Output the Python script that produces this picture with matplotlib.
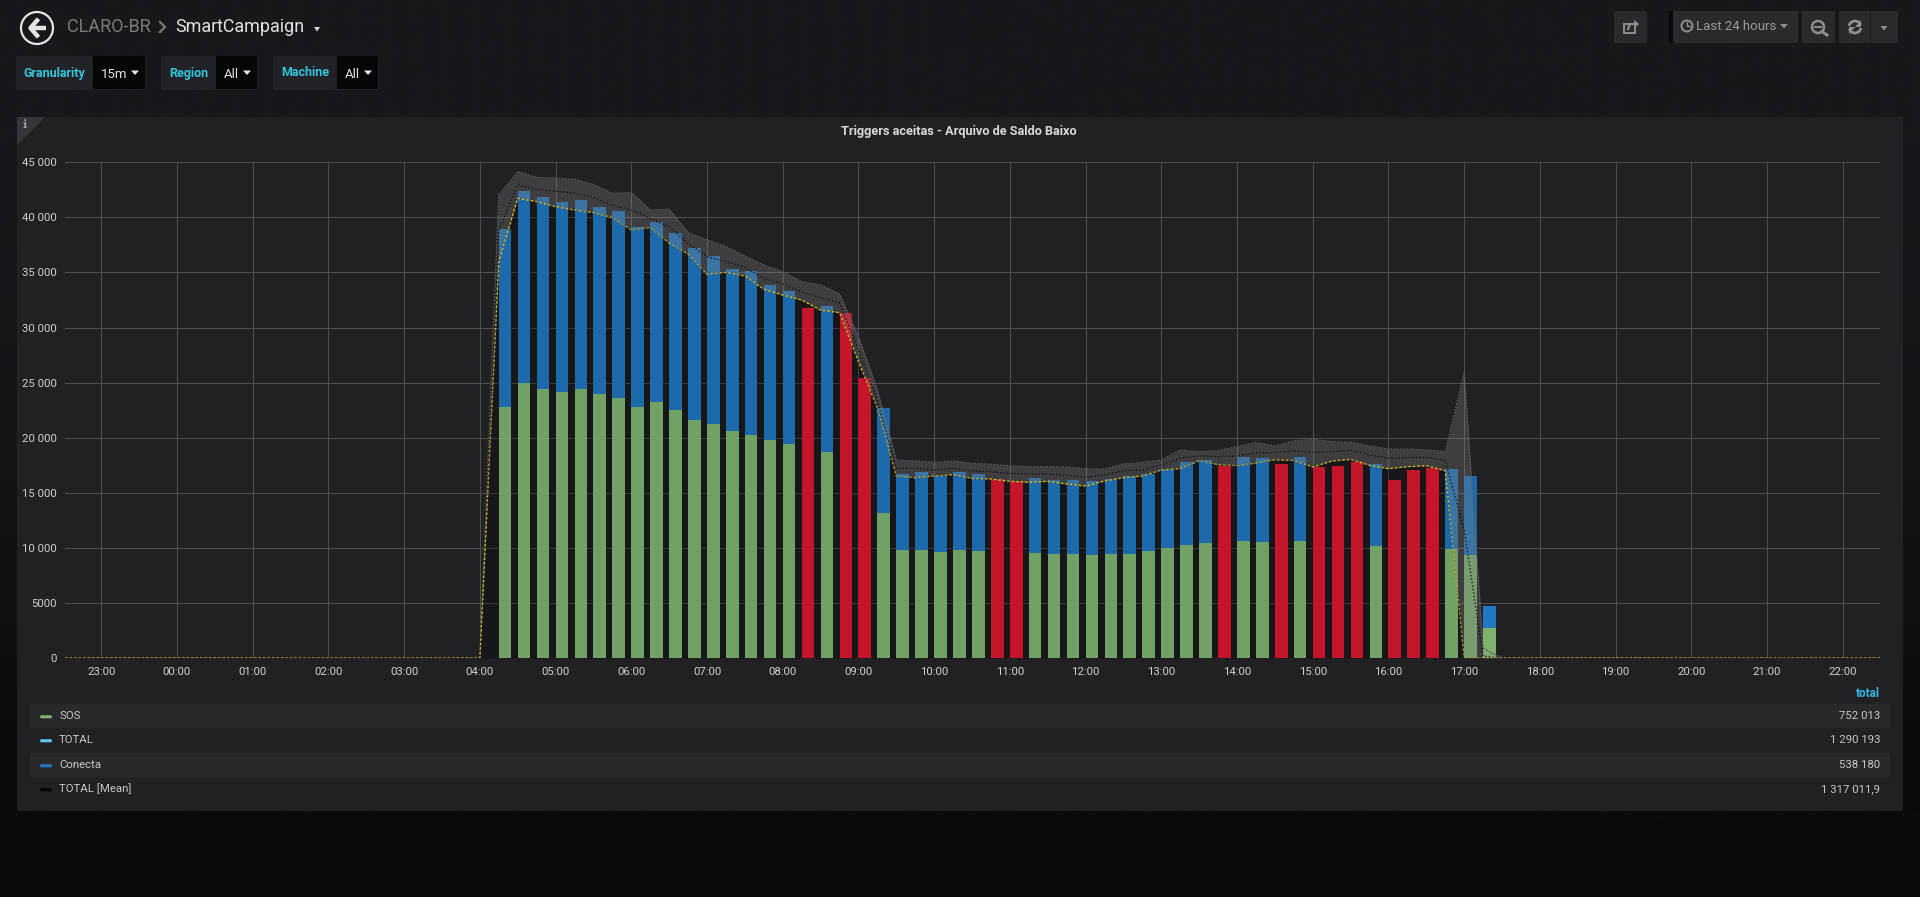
# Grafana "Triggers aceitas" panel, redrawn with matplotlib
import numpy as np
import pandas as pd
import matplotlib
matplotlib.use('Agg')
import matplotlib.pyplot as plt
import matplotlib.dates as mdates
from matplotlib.patches import Rectangle, Polygon, Circle, Arc, FancyBboxPatch

plt.rcParams['font.family'] = ['Roboto', 'DejaVu Sans']

# stacked bars, one every 15 min from 04:15 (0 = no green visible, bar drawn red)
sos = [22760, 24965, 24420, 24147, 24420, 23966, 23603, 22820, 23270, 22480, 21606,
       21240, 20607, 20244, 19790, 19455, 0, 18730, 0, 0, 13163, 9833, 9805, 9653,
       9775, 9745, 0, 0, 9530, 9470, 9440, 9350, 9440, 9470, 9713, 9986, 10258, 10440,
       0, 10620, 10500, 0, 10590, 0, 0, 0, 10200, 0, 0, 0, 9925, 9380, 2696]
bar_total = [38945, 42394, 41880, 41396, 41577, 40942, 40578, 39098, 39580, 38582, 37190,
             36465, 35313, 35131, 33860, 33290, 31800, 31955, 31320, 25418, 22665, 16700,
             16855, 16550, 16885, 16670, 16220, 16040, 16370, 16190, 16160, 16100, 16250,
             16490, 16730, 17160, 17790, 17975, 17460, 18280, 18190, 17640, 18250, 17370,
             17430, 17760, 17640, 16130, 17070, 17280, 17160, 16490, 4690]
red_bars = [16, 18, 19, 26, 27, 38, 41, 43, 44, 45, 47, 48, 49]

# lines, every 15 min from 04:00 to 17:30
total_line = [0, 35980, 41730, 41430, 40970, 40670, 40430, 39970, 38850, 39090, 37650, 36680,
              34830, 35010, 34680, 33470, 32950, 32500, 31590, 31350, 26900, 22700, 16520, 16370,
              16520, 16640, 16310, 16250, 16040, 15950, 16040, 15800, 15610, 16070, 16370, 16520,
              17070, 17190, 17910, 17550, 17460, 17700, 18000, 17940, 17340, 17880, 18040, 17490,
              17190, 17370, 17460, 17000, 0, 0, 0]
mean_line = [0, 38850, 42940, 42540, 42390, 42180, 41820, 41120, 40670, 39910, 39150, 37650,
             36430, 35980, 35470, 34470, 33950, 33250, 32710, 32250, 27960, 23330, 17220, 17220,
             17070, 17220, 17000, 16910, 16770, 16700, 16700, 16610, 16400, 16610, 17000, 17070,
             17520, 18130, 18340, 18280, 18340, 18640, 18640, 18820, 18670, 18730, 18850, 18430,
             18130, 18190, 18220, 17910, 11620, 180, 0]
upper_band = [0, 42030, 44140, 43630, 43540, 43450, 42990, 42180, 42270, 40670, 40730, 38610,
              37950, 37340, 36490, 35680, 35070, 34160, 33860, 33040, 29170, 24330, 17970, 17880,
              17760, 17880, 17670, 17580, 17460, 17370, 17370, 17340, 17160, 17160, 17610, 17760,
              17970, 18880, 18730, 18820, 19180, 19540, 19240, 19700, 19850, 19640, 19580, 19240,
              18970, 18970, 18880, 18730, 25900, 900, 0]

y_ticks = [0, 5000, 10000, 15000, 20000, 25000, 30000, 35000, 40000, 45000]
y_labels = ['0', '5000', '10 000', '15 000', '20 000', '25 000', '30 000', '35 000', '40 000', '45 000']
legend_names = ['SOS', 'TOTAL', 'Conecta', 'TOTAL [Mean]']
legend_values = ['752 013', '1 290 193', '538 180', '1 317 011,9']
legend_colors = ['#7eb26d', '#5bc8e8', '#1f78c1', '#000000']

W, H = 1920, 897
fig = plt.figure(figsize=(W / 100, H / 100), dpi=100)

# page chrome in pixel coords
bg = fig.add_axes([0, 0, 1, 1], zorder=0)
bg.set_xlim(0, W)
bg.set_ylim(H, 0)
bg.axis('off')
grad = np.array([[0x17, 0x18, 0x1b], [0x14, 0x15, 0x17], [0x0b, 0x0b, 0x0c]]) / 255
bg.imshow(grad[:, None, :], extent=[0, W, H, 0], aspect='auto', interpolation='bilinear', zorder=0)
bg.set_xlim(0, W)
bg.set_ylim(H, 0)


def box(x0, y0, x1, y1, color, z=1):
    bg.add_patch(Rectangle((x0, y0), x1 - x0, y1 - y0, fc=color, ec='none', zorder=z))


def rbox(x0, y0, x1, y1, color, z=1):
    bg.add_patch(FancyBboxPatch((x0 + 2, y0 + 2), x1 - x0 - 4, y1 - y0 - 4, boxstyle='round,pad=2',
                                fc=color, ec='none', zorder=z))


def caret(x, y, color, s=4):
    bg.add_patch(Polygon([(x - s, y - 2), (x + s, y - 2), (x, y + 2.5)], fc=color, ec='none', zorder=3))


# back button and breadcrumb
bg.add_patch(Circle((37, 28), 16, fc='none', ec='#e4e4e4', lw=1.6, zorder=3))
bg.plot([46, 32], [28, 28], color='#e4e4e4', lw=3.2, solid_capstyle='butt', zorder=3)
bg.plot([37, 30.5, 37], [20.5, 28, 35.5], color='#e4e4e4', lw=3.2, zorder=3)
bg.text(67, 27.5, 'CLARO-BR', color='#7b7b7b', fontsize=13, va='center', zorder=3)
bg.plot([160, 165, 160], [22, 27, 32], color='#7b7b7b', lw=1.6, zorder=3)
bg.text(175, 27.5, 'SmartCampaign', color='#e3e3e3', fontsize=12.9, va='center', zorder=3)
caret(317, 29, '#d8d8d8', 3)

# template variables
for x0, x1, x2, name, val in [(16, 93, 146, 'Granularity', '15m'),
                              (161, 216, 258, 'Region', 'All'),
                              (273, 337, 379, 'Machine', 'All')]:
    rbox(x0, 56, x2, 90, '#212226')
    box(x1, 56, x2 - 1, 89, '#060608', 2)
    bg.text((x0 + x1) / 2, 73, name, color='#33c4dc', fontsize=9, fontweight='bold',
            ha='center', va='center', zorder=3)
    bg.text(x1 + 8, 74, val, color='#e3e3e3', fontsize=9.5, va='center', zorder=3)
    caret(x2 - 11, 72.5, '#e3e3e3', 4)

# toolbar
for x0, x1 in [(1614, 1647), (1673, 1798), (1802, 1835), (1839, 1898)]:
    rbox(x0, 11, x1, 43, '#2a2a2c')
box(1669, 11, 1673, 43, '#0a0a0b')
box(1870, 11, 1871, 43, '#1b1b1d', 2)
grey = '#8e8e8e'
bg.add_patch(Rectangle((1624, 24), 11, 9, fc='none', ec=grey, lw=1.4, zorder=3))
bg.plot([1628, 1630, 1637], [29, 24, 24], color=grey, lw=1.6, zorder=3)
bg.add_patch(Polygon([(1634, 20), (1639, 24), (1634, 28)], fc=grey, ec='none', zorder=3))
bg.add_patch(Circle((1687, 26), 5.5, fc='none', ec=grey, lw=1.4, zorder=3))
bg.plot([1687, 1687, 1690], [22.5, 26.5, 26.5], color=grey, lw=1, zorder=3)
bg.text(1696, 27, 'Last 24 hours', color='#9b9b9b', fontsize=9.5, va='center', zorder=3)
caret(1784, 26, grey, 4)
bg.add_patch(Circle((1818, 27), 6, fc='none', ec=grey, lw=1.8, zorder=3))
bg.plot([1815, 1821], [27, 27], color=grey, lw=1.4, zorder=3)
bg.plot([1822, 1827], [31.5, 35], color=grey, lw=2.2, zorder=3)
bg.add_patch(Arc((1855, 27), 12, 12, theta1=190, theta2=340, ec=grey, lw=2, zorder=3))
bg.add_patch(Arc((1855, 27), 12, 12, theta1=10, theta2=160, ec=grey, lw=2, zorder=3))
bg.add_patch(Polygon([(1861, 20), (1861, 27), (1855, 27)], fc=grey, ec='none', zorder=3))
bg.add_patch(Polygon([(1849, 34), (1849, 27), (1855, 27)], fc=grey, ec='none', zorder=3))
caret(1884, 28, grey, 3.5)

# panel
box(17, 117, 1903, 811, '#212124')
bg.add_patch(Polygon([(17, 117), (45, 117), (17, 145)], fc='#36363a', ec='none', zorder=2))
bg.text(25, 125, 'i', color='#a0a0a0', fontsize=8, fontweight='bold', family='DejaVu Serif',
        ha='center', va='center', zorder=3)
bg.text(959, 131, 'Triggers aceitas - Arquivo de Saldo Baixo', color='#d8d8d8', fontsize=9.2,
        fontweight='bold', ha='center', va='center', zorder=3)

# legend table
bg.text(1880, 693.5, 'total', color='#33b5e5', fontsize=8.5, fontweight='bold', ha='right', va='center', zorder=3)
box(30, 704, 1890, 728, '#29292b', 2)
box(30, 753, 1890, 777, '#29292b', 2)
for row_y, name, val, col in zip([716, 740, 765, 789], legend_names, legend_values, legend_colors):
    bg.add_patch(FancyBboxPatch((41, row_y), 10, 1.5, boxstyle='round,pad=0.8', fc=col, ec='none', zorder=3))
    bg.text(59, row_y, name, color='#c8c8c8', fontsize=8.2, va='center', zorder=3)
    bg.text(1880, row_y, val, color='#c8c8c8', fontsize=8.2, ha='right', va='center', zorder=3)

# chart
ax = fig.add_axes([65 / W, (H - 658) / H, (1880 - 65) / W, (658 - 162.3) / H], zorder=1)
ax.set_facecolor('none')
for s in ax.spines.values():
    s.set_visible(False)

bar_times = pd.date_range('2018-01-02 04:15', periods=len(sos), freq='15min')
line_times = pd.date_range('2018-01-02 04:00', periods=len(total_line), freq='15min')
left = pd.Timestamp('2018-01-01 22:31:15')
right = pd.Timestamp('2018-01-02 22:29:30')

# lines stay at zero outside the active window
lx = pd.DatetimeIndex([left]).append(line_times).append(pd.DatetimeIndex([right]))
total_y = np.array([0] + total_line + [0])
mean_y = np.array([0] + mean_line + [0])
upper_y = np.array([0] + upper_band + [0])

ax.fill_between(lx, 0, total_y, color='#000000', alpha=0.28, lw=0, zorder=2)

width = 10 / (24 * 60)
sos_a = np.array(sos)
top_a = np.array(bar_total)
green = ['#72a166'] * len(sos)
blue = ['#1c6aab'] * len(sos)
green[-1] = '#7eb26d'
blue[-1] = '#1f78c1'
for i in red_bars:
    blue[i] = '#c4162a'
ax.bar(bar_times, sos_a, width=width, align='edge', color=green, zorder=3)
ax.bar(bar_times, top_a - sos_a, width=width, bottom=sos_a, align='edge', color=blue, zorder=3)

ax.fill_between(lx, total_y, upper_y, where=upper_y >= total_y, color='#8c8c8c', alpha=0.28, lw=0, zorder=4)
ax.plot(lx, upper_y, color='#5c5c5c', lw=0.9, ls=(0, (1.5, 1)), zorder=5)
ax.plot(lx, mean_y, color='#0a0a0a', lw=0.9, ls=(0, (1, 1.8)), zorder=6)
ax.plot(lx, total_y, color='#e2c30e', lw=0.9, ls=(0, (2, 1.6)), zorder=7)
ax.plot(lx, total_y, color='#4c4c4c', lw=0.8, ls=(0, (1, 3)), zorder=8)

ax.set_xlim(left, right)
ax.set_ylim(0, 45000)
ax.set_yticks(y_ticks)
ax.set_yticklabels(y_labels)
ax.xaxis.set_major_locator(mdates.HourLocator())
ax.xaxis.set_major_formatter(mdates.DateFormatter('%H:%M'))
ax.tick_params(axis='both', length=0, labelcolor='#d0d0d0', labelsize=8.2)
ax.tick_params(axis='y', pad=6)
ax.tick_params(axis='x', pad=6.5)
ax.grid(True, color='#505052', lw=0.72, zorder=1)
ax.set_axisbelow(True)

fig.savefig('out.png', dpi=100)
